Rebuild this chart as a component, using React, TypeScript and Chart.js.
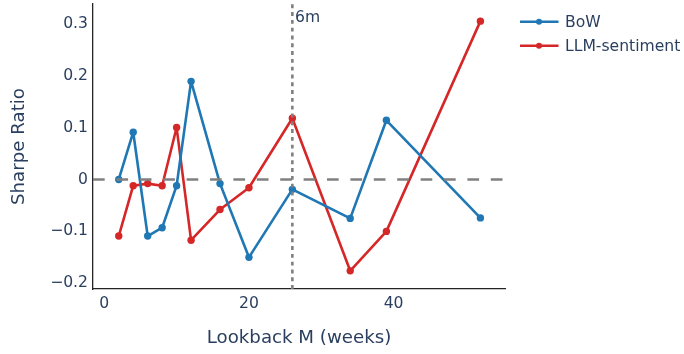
import React, { useEffect, useRef } from "react";
import { Chart, registerables } from "chart.js";

Chart.register(...registerables);

const weeks = [2, 4, 6, 8, 10, 12, 16, 20, 26, 34, 39, 52];
const bowValues = [0.0, 0.091, -0.109, -0.093, -0.012, 0.189, -0.008, -0.15, -0.019, -0.075, 0.114, -0.074];
const llmValues = [-0.109, -0.012, -0.008, -0.012, 0.1, -0.117, -0.058, -0.016, 0.118, -0.176, -0.1, 0.305];
const seriesNames = ["BoW", "LLM-sentiment"];
const xTickValues = [0, 20, 40];
const yTickValues = [-0.2, -0.1, 0, 0.1, 0.2, 0.3];
const markerWeek = 26;
const markerLabel = "6m";
const xTitle = "Lookback M (weeks)";
const yTitle = "Sharpe Ratio";

const FONT = "'DejaVu Sans', Verdana, sans-serif";
const TEXT = "#2a3f5f";
const COLORS = ["#1f77b4", "#d62728"];
const GRAY = "#808080";

const fmtY = (v: number) => {
  if (Math.abs(v) < 1e-9) return "0";
  const s = Math.abs(v).toFixed(1);
  return v < 0 ? "\u2212" + s : s;
};

const overlayPlugin = {
  id: "overlay",
  afterDatasetsDraw(chart: any) {
    const { ctx, chartArea, scales } = chart;
    const x = scales.x;
    const y = scales.y;
    ctx.save();
    const y0 = y.getPixelForValue(0);
    ctx.strokeStyle = GRAY;
    ctx.lineWidth = 2.6;
    ctx.setLineDash([11.7, 11.7]);
    ctx.beginPath();
    ctx.moveTo(chartArea.left, y0);
    ctx.lineTo(chartArea.right, y0);
    ctx.stroke();
    const xv = x.getPixelForValue(markerWeek);
    ctx.setLineDash([3.9, 3.9]);
    ctx.beginPath();
    ctx.moveTo(xv, chartArea.bottom);
    ctx.lineTo(xv, chartArea.top);
    ctx.stroke();
    ctx.setLineDash([]);
    ctx.fillStyle = TEXT;
    ctx.font = `15.6px ${FONT}`;
    ctx.textAlign = "left";
    ctx.textBaseline = "middle";
    ctx.fillText(markerLabel, xv + 2.7, chartArea.top + 13.8);
    ctx.restore();
  },
  afterDraw(chart: any) {
    const { ctx } = chart;
    ctx.save();
    seriesNames.forEach((name, i) => {
      const cy = 21.7 + i * 24;
      ctx.strokeStyle = COLORS[i];
      ctx.lineWidth = 2.6;
      ctx.beginPath();
      ctx.moveTo(520, cy);
      ctx.lineTo(558.5, cy);
      ctx.stroke();
      ctx.fillStyle = COLORS[i];
      ctx.beginPath();
      ctx.arc(539, cy, 3, 0, Math.PI * 2);
      ctx.fill();
      ctx.fillStyle = TEXT;
      ctx.font = `15.6px ${FONT}`;
      ctx.textAlign = "left";
      ctx.textBaseline = "middle";
      ctx.fillText(name, 565, cy + 1.5);
    });
    ctx.restore();
  },
};

export default function App() {
  const ref = useRef<HTMLCanvasElement | null>(null);
  useEffect(() => {
    if (!ref.current) return;
    const mk = (vals: number[]) => weeks.map((w, i) => ({ x: w, y: vals[i] }));
    const ds = (i: number, vals: number[]) => ({
      label: seriesNames[i],
      data: mk(vals),
      borderColor: COLORS[i],
      backgroundColor: COLORS[i],
      pointBackgroundColor: COLORS[i],
      borderWidth: 2.6,
      borderJoinStyle: "round" as const,
      borderCapStyle: "round" as const,
      pointRadius: 3.7,
      pointBorderWidth: 0,
      tension: 0,
    });
    const chart = new Chart(ref.current, {
      type: "line",
      data: { datasets: [ds(0, bowValues), ds(1, llmValues)] },
      options: {
        animation: false,
        responsive: false,
        devicePixelRatio: 1,
        events: [],
        layout: { padding: { top: 3, right: 179, left: 0, bottom: 0 } },
        plugins: { legend: { display: false }, tooltip: { enabled: false } },
        scales: {
          x: {
            type: "linear",
            min: -1.56,
            max: 55.4,
            grid: { display: false, drawTicks: false },
            border: { display: true, color: "#242424", width: 1.3 },
            afterBuildTicks: (s: any) => {
              s.ticks = xTickValues.map((v) => ({ value: v }));
            },
            afterFit: (s: any) => {
              s.height = 65;
              s.paddingLeft = 0;
              s.paddingRight = 0;
            },
            ticks: {
              padding: 6,
              color: TEXT,
              font: { family: FONT, size: 15.6 },
              maxRotation: 0,
              callback: (v: any) => String(v),
            },
            title: {
              display: true,
              text: xTitle,
              color: TEXT,
              font: { family: FONT, size: 18.2 },
              padding: { top: 0, bottom: 5 },
            },
          },
          y: {
            type: "linear",
            min: -0.211,
            max: 0.338,
            grid: { display: false, drawTicks: false },
            border: { display: true, color: "#242424", width: 1.3 },
            afterBuildTicks: (s: any) => {
              s.ticks = yTickValues.map((v) => ({ value: v }));
            },
            afterFit: (s: any) => {
              s.width = 93;
              s.paddingTop = 0;
              s.paddingBottom = 0;
            },
            ticks: {
              padding: 5,
              color: TEXT,
              font: { family: FONT, size: 15.6 },
              callback: (v: any) => fmtY(Number(v)),
            },
            title: {
              display: true,
              text: yTitle,
              color: TEXT,
              font: { family: FONT, size: 18.2 },
              padding: { top: 8, bottom: 0 },
            },
          },
        },
      },
      plugins: [overlayPlugin],
    });
    return () => chart.destroy();
  }, []);
  return (
    <div style={{ position: "absolute", left: 0, top: 0, width: 684, height: 354, background: "#fff" }}>
      <canvas ref={ref} width={684} height={354} style={{ width: 684, height: 354, display: "block" }} />
    </div>
  );
}
